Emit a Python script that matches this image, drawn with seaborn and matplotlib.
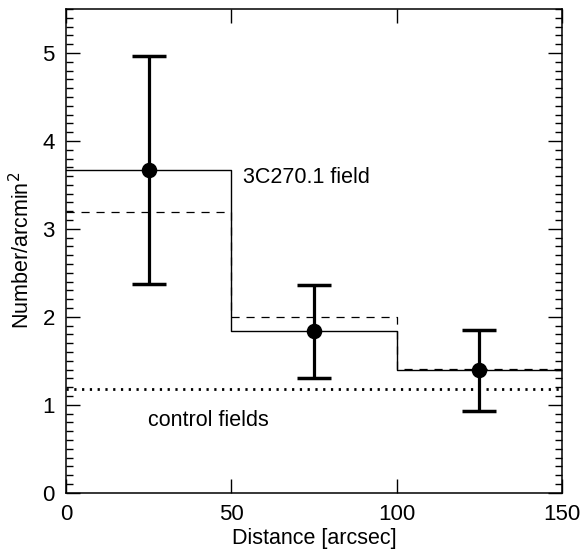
import matplotlib
matplotlib.use("Agg")
import matplotlib.pyplot as plt
import seaborn as sns
import numpy as np
import pandas as pd
from matplotlib.ticker import MultipleLocator

# Data
bin_edges = [0, 50, 100, 150]
bin_centers = [25, 75, 125]
field_density = [3.665, 1.835, 1.39]      # solid histogram (3C270.1 field)
alt_density = [3.19, 2.00, 1.41]          # dashed histogram
err_upper = [4.96, 2.36, 1.85]
err_lower = [2.37, 1.30, 0.93]
control_level = 1.18

sns.set_style("ticks")
plt.rcParams['font.family'] = ['Liberation Sans', 'DejaVu Sans']
for k in ["text.color", "axes.labelcolor", "xtick.color", "ytick.color", "axes.edgecolor"]:
    plt.rcParams[k] = "black"

fig = plt.figure(figsize=(5.82, 5.57), dpi=100)
ax = fig.add_axes([66/582, 1-492.7/557, (562-66)/582, (492.7-9)/557])

step_df = pd.DataFrame({
    "x": bin_edges,
    "solid": field_density + [field_density[-1]],
    "dashed": alt_density + [alt_density[-1]],
})
sns.lineplot(data=step_df, x="x", y="solid", ax=ax, drawstyle="steps-post",
             color="black", lw=1.0, estimator=None, sort=False)
sns.lineplot(data=step_df, x="x", y="dashed", ax=ax, drawstyle="steps-post",
             color="black", lw=0.9, estimator=None, sort=False, dashes=False,
             linestyle=(0, (6.5, 5.5)))

ax.axhline(control_level, color="black", lw=2.0, linestyle=(0, (0.8, 2.0)))

yerr = np.array([np.array(field_density) - np.array(err_lower),
                 np.array(err_upper) - np.array(field_density)])
ax.errorbar(bin_centers, field_density, yerr=yerr, fmt="none", ecolor="black",
            elinewidth=2.3, capsize=12, capthick=2.5)
sns.scatterplot(x=bin_centers, y=field_density, ax=ax, color="black", s=125,
                edgecolor="black", linewidth=0, zorder=5)

ax.text(53.5, 3.58, "3C270.1 field", fontsize=15.5, va="center", ha="left")
ax.text(24.8, 0.82, "control fields", fontsize=15.5, va="center", ha="left")

ax.set_xlim(0, 150)
ax.set_ylim(0, 5.5)
ax.set_xticks([0, 50, 100, 150])
ax.set_yticks([0, 1, 2, 3, 4, 5])
ax.yaxis.set_minor_locator(MultipleLocator(0.1))
ax.tick_params(axis="both", which="major", direction="in", length=10, width=1,
               top=True, right=True, labelsize=16, pad=8, colors="black")
ax.tick_params(axis="y", which="minor", direction="in", length=5, width=1,
               left=True, right=True, colors="black")
ax.set_xlabel("Distance [arcsec]", fontsize=15.5, labelpad=2)
ax.set_ylabel("Number/arcmin$^2$", fontsize=15.5, labelpad=6)
for s in ax.spines.values():
    s.set_linewidth(1.1)
    s.set_color("black")

fig.savefig("out.png", dpi=100)
